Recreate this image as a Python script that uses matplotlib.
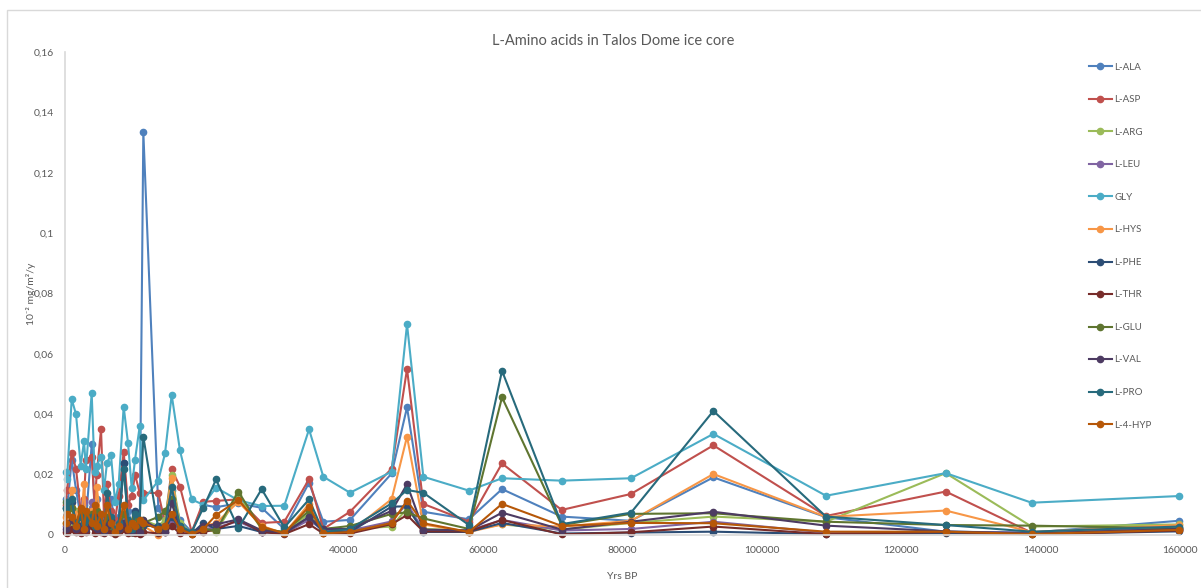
import matplotlib
matplotlib.use("Agg")
import matplotlib.pyplot as plt
from matplotlib.ticker import FuncFormatter, MultipleLocator
from matplotlib.patches import Rectangle

plt.rcParams['font.family'] = ['Lato', 'DejaVu Sans']

# sample ages (years before present)
yrs_bp = [100, 290, 960, 1580, 2250, 2730, 3010, 3830, 4250, 4550,
          5170, 5600, 6030, 6600, 7180, 7710, 8420, 9040, 9570, 10050,
          10720, 11240, 13390, 14350, 15310, 16500, 18180, 19850, 21670, 24870,
          28220, 31470, 35020, 37070, 40900, 46880, 49080, 51420, 57970, 62710,
          71270, 81220, 93040, 109200, 126380, 138700, 159800]

# fluxes, 10^-2 mg/m2/y
l_ala = [0.012, 0.008, 0.025, 0.015, 0.006, 0.010, 0.005, 0.030, 0.008, 0.012,
         0.006, 0.004, 0.010, 0.012, 0.004, 0.006, 0.024, 0.008, 0.004, 0.006,
         0.002, 0.1335, 0.009, 0.004, 0.015, 0.005, 0.001, 0.010, 0.0092, 0.0105,
         0.009, 0.002, 0.0173, 0.0044, 0.005, 0.0204, 0.0423, 0.0077, 0.0052, 0.0152,
         0.0061, 0.0047, 0.0191, 0.0059, 0.0011, 0.0008, 0.0047]
l_asp = [0.010, 0.015, 0.027, 0.022, 0.008, 0.012, 0.025, 0.026, 0.010, 0.020,
         0.035, 0.006, 0.017, 0.008, 0.005, 0.013, 0.0275, 0.010, 0.013, 0.020,
         0.014, 0.014, 0.0139, 0.004, 0.0218, 0.016, 0.001, 0.011, 0.0113, 0.0118,
         0.004, 0.0044, 0.0185, 0.002, 0.0077, 0.022, 0.055, 0.0103, 0.0044, 0.0237,
         0.0083, 0.0136, 0.0297, 0.0063, 0.0144, 0.0008, 0.0022]
l_arg = [0.004, 0.006, 0.003, 0.008, 0.002, 0.005, 0.003, 0.009, 0.002, 0.005,
         0.004, 0.002, 0.006, 0.003, 0.001, 0.004, 0.008, 0.003, 0.001, 0.004,
         0.002, 0.005, 0.003, 0.005, 0.0199, 0.004, 0.0005, 0.002, 0.001, 0.0132,
         0.002, 0.001, 0.007, 0.001, 0.002, 0.0028, 0.0088, 0.002, 0.0015, 0.0035,
         0.0018, 0.004, 0.0061, 0.0044, 0.0205, 0.0028, 0.0035]
l_leu = [0.003, 0.005, 0.006, 0.004, 0.002, 0.011, 0.003, 0.011, 0.003, 0.006,
         0.005, 0.002, 0.004, 0.006, 0.001, 0.002, 0.005, 0.002, 0.001, 0.003,
         0.001, 0.004, 0.002, 0.002, 0.005, 0.001, 0.0005, 0.002, 0.0025, 0.0045,
         0.001, 0.0005, 0.005, 0.0015, 0.0015, 0.0045, 0.0105, 0.0015, 0.0015, 0.005,
         0.0015, 0.002, 0.0044, 0.0008, 0.001, 0.0008, 0.0019]
gly = [0.021, 0.0185, 0.045, 0.040, 0.023, 0.031, 0.022, 0.047, 0.021, 0.023,
       0.026, 0.015, 0.024, 0.0265, 0.011, 0.017, 0.0425, 0.0305, 0.0155, 0.025,
       0.036, 0.0115, 0.018, 0.027, 0.0464, 0.028, 0.0118, 0.0100, 0.0157, 0.0115,
       0.0096, 0.0097, 0.035, 0.0193, 0.014, 0.021, 0.0698, 0.0193, 0.0147, 0.0188,
       0.018, 0.0188, 0.0335, 0.013, 0.0205, 0.0107, 0.0129]
l_hys = [0.006, 0.004, 0.015, 0.007, 0.002, 0.017, 0.004, 0.008, 0.002, 0.016,
         0.004, 0.002, 0.007, 0.003, 0.0005, 0.004, 0.009, 0.003, 0.001, 0.003,
         0.001, 0.003, 0.0, 0.003, 0.019, 0.002, 0.0003, 0.003, 0.0039, 0.011,
         0.003, 0.0005, 0.0103, 0.0005, 0.001, 0.0119, 0.0326, 0.0035, 0.001, 0.0035,
         0.0028, 0.0047, 0.0202, 0.006, 0.0081, 0.001, 0.0033]
l_phe = [0.009, 0.007, 0.011, 0.004, 0.002, 0.006, 0.003, 0.005, 0.002, 0.006,
         0.003, 0.001, 0.005, 0.004, 0.001, 0.003, 0.024, 0.004, 0.001, 0.008,
         0.002, 0.003, 0.003, 0.002, 0.006, 0.002, 0.0005, 0.004, 0.002, 0.003,
         0.001, 0.0005, 0.006, 0.001, 0.001, 0.0094, 0.0095, 0.001, 0.001, 0.004,
         0.0005, 0.0008, 0.0011, 0.0003, 0.0006, 0.0003, 0.0012]
l_thr = [0.001, 0.0005, 0.002, 0.001, 0.0005, 0.002, 0.001, 0.003, 0.0005, 0.002,
         0.001, 0.0005, 0.002, 0.001, 0.0003, 0.001, 0.002, 0.0005, 0.001, 0.0005,
         0.0003, 0.001, 0.0005, 0.001, 0.003, 0.0005, 0.0003, 0.001, 0.0018, 0.005,
         0.001, 0.0003, 0.0036, 0.0005, 0.0005, 0.0036, 0.0066, 0.0012, 0.0012, 0.005,
         0.0002, 0.0009, 0.0028, 0.0003, 0.001, 0.0002, 0.0015]
l_glu = [0.011, 0.008, 0.009, 0.004, 0.008, 0.003, 0.006, 0.007, 0.003, 0.008,
         0.004, 0.002, 0.006, 0.003, 0.001, 0.002, 0.007, 0.004, 0.001, 0.006,
         0.002, 0.004, 0.006, 0.008, 0.012, 0.003, 0.0005, 0.002, 0.0015, 0.0144,
         0.002, 0.001, 0.008, 0.002, 0.003, 0.007, 0.0075, 0.0055, 0.002, 0.0456,
         0.0033, 0.007, 0.0072, 0.0044, 0.0033, 0.0031, 0.0022]
l_val = [0.002, 0.004, 0.005, 0.002, 0.003, 0.005, 0.002, 0.004, 0.006, 0.002,
         0.004, 0.001, 0.003, 0.005, 0.001, 0.002, 0.004, 0.002, 0.001, 0.003,
         0.001, 0.005, 0.002, 0.001, 0.0105, 0.002, 0.0005, 0.003, 0.0035, 0.0052,
         0.0015, 0.0008, 0.0059, 0.002, 0.002, 0.008, 0.0168, 0.0018, 0.0015, 0.0074,
         0.0018, 0.0044, 0.0077, 0.0031, 0.0012, 0.0005, 0.002]
l_pro = [0.009, 0.011, 0.012, 0.003, 0.006, 0.004, 0.005, 0.006, 0.003, 0.005,
         0.004, 0.002, 0.014, 0.006, 0.002, 0.004, 0.022, 0.005, 0.002, 0.007,
         0.005, 0.0326, 0.002, 0.003, 0.0158, 0.003, 0.001, 0.009, 0.0184, 0.0022,
         0.0152, 0.0025, 0.0118, 0.001, 0.002, 0.0105, 0.0149, 0.014, 0.0033, 0.0544,
         0.0036, 0.0074, 0.0411, 0.0061, 0.0033, 0.0011, 0.0028]
l_4hyp = [0.004, 0.007, 0.006, 0.003, 0.009, 0.002, 0.008, 0.004, 0.010, 0.003,
          0.007, 0.002, 0.010, 0.004, 0.001, 0.003, 0.010, 0.002, 0.004, 0.003,
          0.005, 0.004, 0.002, 0.003, 0.007, 0.002, 0.0003, 0.002, 0.0066, 0.0116,
          0.0028, 0.0005, 0.0094, 0.0005, 0.001, 0.004, 0.0114, 0.0039, 0.001, 0.0103,
          0.003, 0.004, 0.0039, 0.0011, 0.0011, 0.0003, 0.0017]

names = ['L-ALA', 'L-ASP', 'L-ARG', 'L-LEU', 'GLY', 'L-HYS',
         'L-PHE', 'L-THR', 'L-GLU', 'L-VAL', 'L-PRO', 'L-4-HYP']
series = [l_ala, l_asp, l_arg, l_leu, gly, l_hys,
          l_phe, l_thr, l_glu, l_val, l_pro, l_4hyp]
colors = ['#4F81BD', '#C0504D', '#9BBB59', '#8064A2', '#4BACC6', '#F79646',
          '#2C4D75', '#772C2A', '#5F7530', '#4D3B62', '#276A7C', '#B65708']

txt = '#595959'

fig = plt.figure(figsize=(12.01, 5.88), dpi=100)
fig.patches.append(Rectangle((7 / 1201, -0.01), 1.0, 1 - 10 / 588 + 0.01,
                             transform=fig.transFigure, fill=False,
                             edgecolor='#D9D9D9', linewidth=1.0))
ax = fig.add_axes([65 / 1201, 1 - 535 / 588, 1115 / 1201, 483 / 588])

for vals, name, c in zip(series, names, colors):
    ax.plot(yrs_bp, vals, color=c, linewidth=1.5, marker='o', markersize=4.5,
            label=name, clip_on=False)

ax.set_xlim(0, 160000)
ax.set_ylim(0, 0.16)
ax.xaxis.set_major_locator(MultipleLocator(20000))
ax.yaxis.set_major_locator(MultipleLocator(0.02))


def comma_fmt(v, pos):
    s = ('%.2f' % v).rstrip('0').rstrip('.')
    return s.replace('.', ',')


ax.yaxis.set_major_formatter(FuncFormatter(comma_fmt))
ax.xaxis.set_major_formatter(FuncFormatter(lambda v, p: '%d' % v))
ax.tick_params(length=0, labelsize=7.5, labelcolor=txt)
ax.tick_params(axis='y', pad=8)
ax.tick_params(axis='x', pad=8)

for s in ['top', 'right']:
    ax.spines[s].set_visible(False)
ax.spines['left'].set_color('#D9D9D9')
ax.spines['bottom'].set_color('#D9D9D9')
ax.spines['left'].set_linewidth(1.2)
ax.spines['bottom'].set_linewidth(1.2)

ax.set_xlabel('Yrs BP', fontsize=7.5, color=txt)
ax.xaxis.set_label_coords(0.5, -37 / 483)
ax.set_ylabel('10\u207b\u00b2 mg/m\u00b2/y', fontsize=7.5, color=txt)
ax.yaxis.set_label_coords(-29 / 1115, 0.5)
fig.text(613 / 1201, 1 - 41 / 588, 'L-Amino acids in Talos Dome ice core',
         ha='center', va='center', fontsize=10.5, color=txt)

leg = fig.legend(loc='upper left', bbox_to_anchor=(1080 / 1201, 1 - 54 / 588),
                 frameon=False, fontsize=7, labelspacing=2.42,
                 handlelength=2.4, handletextpad=0.2)
for t in leg.get_texts():
    t.set_color(txt)

fig.savefig('out.png', dpi=100)
